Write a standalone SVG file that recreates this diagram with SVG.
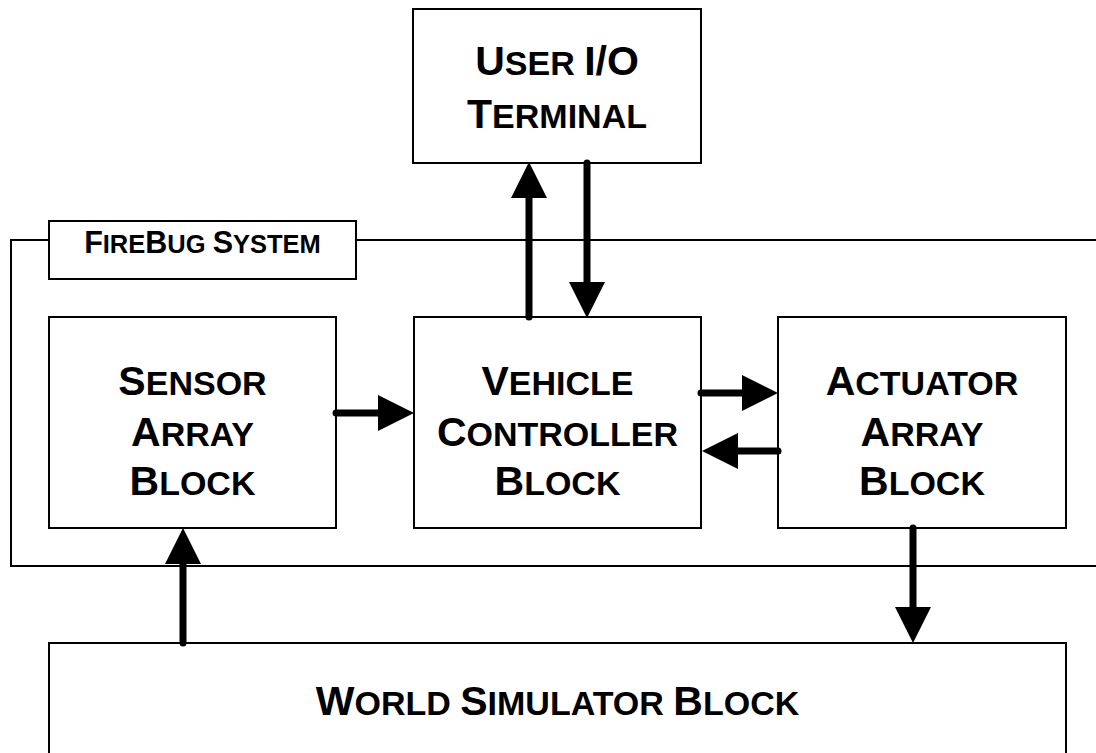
<svg xmlns="http://www.w3.org/2000/svg" width="1096" height="753" viewBox="0 0 1096 753">
  <style>
    .box { fill: #ffffff; stroke: #000000; stroke-width: 2; }
    .frame { fill: none; stroke: #000000; stroke-width: 2; }
    .lbl { font-family: "Liberation Sans", Arial, sans-serif; font-weight: bold; fill: #000000; text-anchor: middle; font-size: 41px; }
    .sc { font-size: 34px; }
    .tag { font-size: 30.5px; }
    .tag .sc { font-size: 25.5px; }
    .flow { fill: none; stroke: #000000; stroke-width: 7; stroke-linecap: round; marker-end: url(#head); }
  </style>
  <defs>
    <marker id="head" markerUnits="userSpaceOnUse" markerWidth="36" markerHeight="36" refX="0" refY="18" orient="auto" overflow="visible">
      <path d="M0,0 L36,18 L0,36 Z" fill="#000000"/>
    </marker>
  </defs>
  <rect width="1096" height="753" fill="#ffffff"/>

  <!-- system boundary with its title tab -->
  <g id="firebug-system">
    <path class="frame" d="M49,240 H11 V566 H1096 M356,240 H1096"/>
    <rect class="box" x="49" y="221" width="307" height="58"/>
    <text class="lbl tag" x="202.5" y="253">F<tspan class="sc">IRE</tspan>B<tspan class="sc">UG </tspan>S<tspan class="sc">YSTEM</tspan></text>
  </g>

  <g id="user-io-terminal">
    <rect class="box" x="413" y="9" width="288" height="154"/>
    <text class="lbl" x="557" y="75">U<tspan class="sc">SER </tspan>I/O</text>
    <text class="lbl" x="557" y="128">T<tspan class="sc">ERMINAL</tspan></text>
  </g>

  <g id="sensor-array">
    <rect class="box" x="49" y="317" width="287" height="211"/>
    <text class="lbl" x="192.5" y="395">S<tspan class="sc">ENSOR</tspan></text>
    <text class="lbl" x="192.5" y="446">A<tspan class="sc">RRAY</tspan></text>
    <text class="lbl" x="192.5" y="495">B<tspan class="sc">LOCK</tspan></text>
  </g>

  <g id="vehicle-controller">
    <rect class="box" x="414" y="317" width="287" height="211"/>
    <text class="lbl" x="557.5" y="395">V<tspan class="sc">EHICLE</tspan></text>
    <text class="lbl" x="557.5" y="446">C<tspan class="sc">ONTROLLER</tspan></text>
    <text class="lbl" x="557.5" y="495">B<tspan class="sc">LOCK</tspan></text>
  </g>

  <g id="actuator-array">
    <rect class="box" x="778" y="317" width="288" height="211"/>
    <text class="lbl" x="922" y="395">A<tspan class="sc">CTUATOR</tspan></text>
    <text class="lbl" x="922" y="446">A<tspan class="sc">RRAY</tspan></text>
    <text class="lbl" x="922" y="495">B<tspan class="sc">LOCK</tspan></text>
  </g>

  <g id="world-simulator">
    <rect class="box" x="49" y="643" width="1017" height="130"/>
    <text class="lbl" x="557.5" y="715">W<tspan class="sc">ORLD </tspan>S<tspan class="sc">IMULATOR </tspan>B<tspan class="sc">LOCK</tspan></text>
  </g>

  <g id="connectors">
    <path class="flow" d="M529,317 V198"/>
    <path class="flow" d="M587,163 V282"/>
    <path class="flow" d="M336,413 H378"/>
    <path class="flow" d="M701,393 H742"/>
    <path class="flow" d="M778,451 H738"/>
    <path class="flow" d="M183,643 V564"/>
    <path class="flow" d="M913,528 V607"/>
  </g>
</svg>
